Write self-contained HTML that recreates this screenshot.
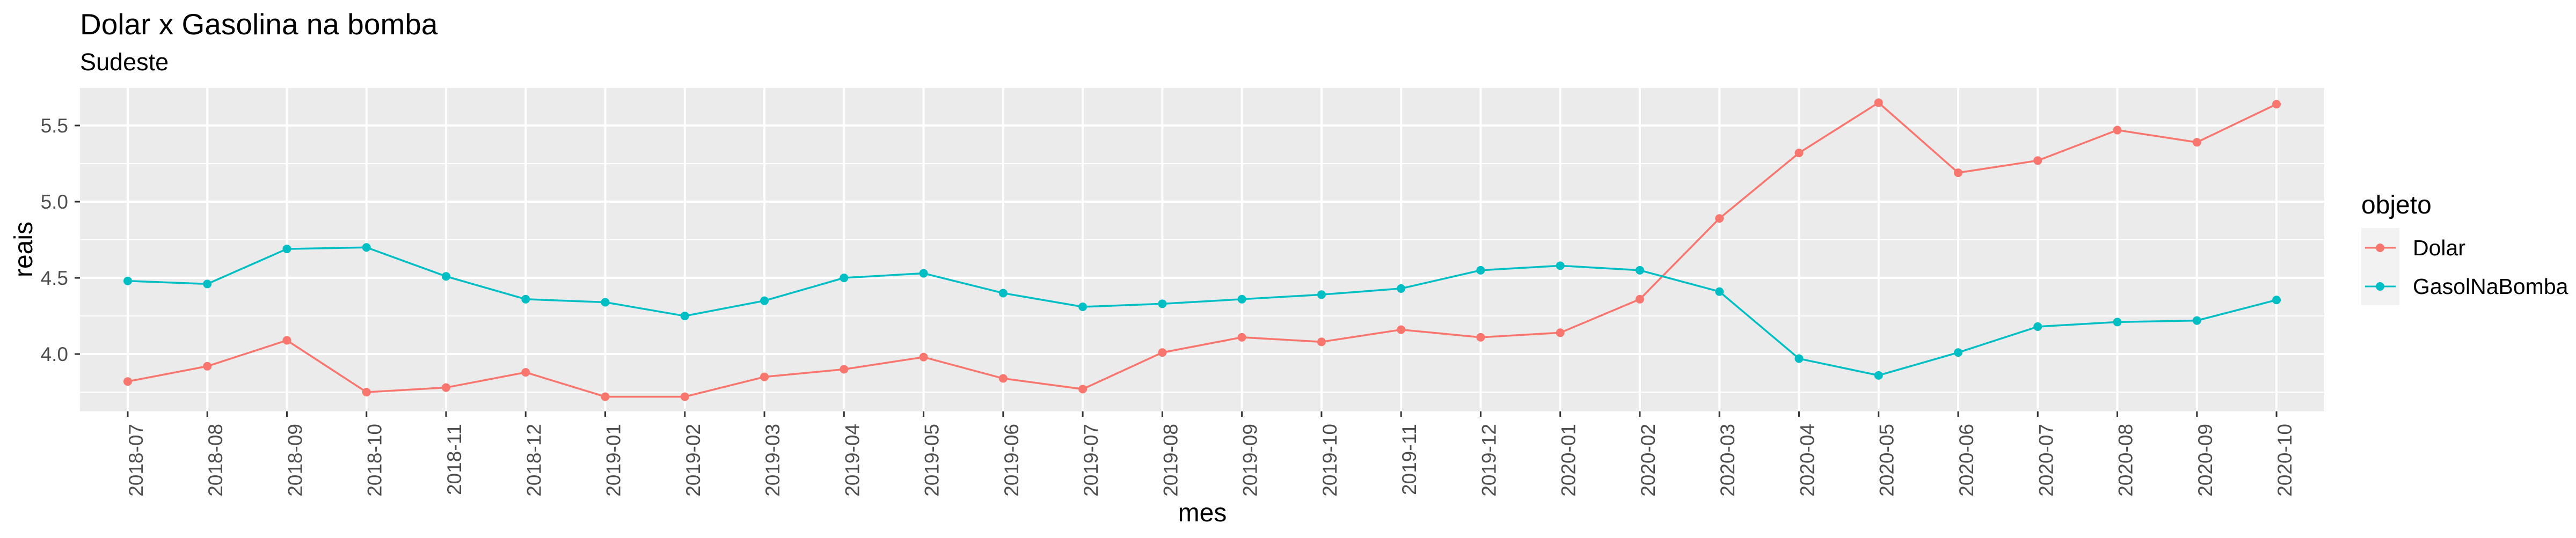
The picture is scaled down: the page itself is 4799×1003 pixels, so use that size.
<!DOCTYPE html>
<html><head><meta charset="utf-8"><style>
body{margin:0;background:#fff}
svg{display:block;font-family:"Liberation Sans",Arial,sans-serif}
</style></head><body>
<svg id="chart" width="4799" height="1003" viewBox="0 0 4799 1003" xmlns="http://www.w3.org/2000/svg">
<text x="149" y="64" font-size="55" fill="#000">Dolar x Gasolina na bomba</text>
<text x="149" y="131" font-size="45" fill="#000">Sudeste</text>
<rect x="149" y="164" width="4181" height="603" fill="#ebebeb"/>
<g id="grid"></g>
<g id="axes"></g>
<g id="series"></g>
<text transform="translate(60,465) rotate(-90)" text-anchor="middle" font-size="48" fill="#000">reais</text>
<text x="2240" y="972" text-anchor="middle" font-size="48" fill="#000">mes</text>
<g>
<text x="4399" y="398" font-size="48" fill="#000">objeto</text>
<rect x="4399" y="425" width="71" height="144" fill="#f2f2f2"/>
<g>
<line x1="4406" y1="462" x2="4463" y2="462" stroke="#F8766D" stroke-width="3"/>
<circle cx="4434" cy="462" r="8" fill="#F8766D"/>
<text x="4495" y="476" font-size="41" fill="#000">Dolar</text></g>
<g>
<line x1="4406" y1="534" x2="4463" y2="534" stroke="#00BFC4" stroke-width="3"/>
<circle cx="4434" cy="534" r="8" fill="#00BFC4"/>
<text x="4495" y="548" font-size="41" fill="#000">GasolNaBomba</text></g>
</g>
</svg>
<script>
const categories=["2018-07","2018-08","2018-09","2018-10","2018-11","2018-12","2019-01","2019-02","2019-03","2019-04","2019-05","2019-06","2019-07","2019-08","2019-09","2019-10","2019-11","2019-12","2020-01","2020-02","2020-03","2020-04","2020-05","2020-06","2020-07","2020-08","2020-09","2020-10"];
const dolarValues=[3.82,3.92,4.09,3.75,3.78,3.88,3.72,3.72,3.85,3.90,3.98,3.84,3.77,4.01,4.11,4.08,4.16,4.11,4.14,4.36,4.89,5.32,5.65,5.19,5.27,5.47,5.39,5.64];
const gasolValues=[4.48,4.46,4.69,4.70,4.51,4.36,4.34,4.25,4.35,4.50,4.53,4.40,4.31,4.33,4.36,4.39,4.43,4.55,4.58,4.55,4.41,3.97,3.86,4.01,4.18,4.21,4.22,4.355];
const yTicks=[4.0,4.5,5.0,5.5];
const yTickLabels=["4.0","4.5","5.0","5.5"];
const yMinor=[3.75,4.25,4.75,5.25];

const NS="http://www.w3.org/2000/svg";
const PL=149,PR=4330,PT=164,PB=767;
const yMin=3.6235,yMax=5.7465;
function xPos(i){const n=categories.length;const step=(PR-PL)/(n-1+1.2);return PL+step*0.6+i*step;}
function yPos(v){return PB-(v-yMin)/(yMax-yMin)*(PB-PT);}
function mk(tag,attrs,parent){const e=document.createElementNS(NS,tag);for(const k in attrs)e.setAttribute(k,attrs[k]);parent.appendChild(e);return e;}
const grid=document.getElementById('grid'),axes=document.getElementById('axes'),series=document.getElementById('series');
yMinor.forEach(v=>{const l=mk('line',{x1:PL,x2:PR,y1:yPos(v),y2:yPos(v),stroke:'#fff','stroke-width':2},grid);

});
yTicks.forEach((v,i)=>{const y=yPos(v);
const l=mk('line',{x1:PL,x2:PR,y1:y,y2:y,stroke:'#fff','stroke-width':4},grid);


const t=mk('line',{x1:139,x2:149,y1:y,y2:y,stroke:'#333','stroke-width':3},axes);


const tx=mk('text',{x:127,y:y+13,'text-anchor':'end','font-size':37,fill:'#4d4d4d'},axes);tx.textContent=yTickLabels[i];

});
categories.forEach((c,i)=>{const x=xPos(i);
const l=mk('line',{x1:x,x2:x,y1:PT,y2:PB,stroke:'#fff','stroke-width':4},grid);


const t=mk('line',{x1:x,x2:x,y1:PB,y2:PB+10,stroke:'#333','stroke-width':3},axes);


const tx=mk('text',{transform:`translate(${x+28},790) rotate(-90)`,'text-anchor':'end','font-size':37,fill:'#4d4d4d'},axes);tx.textContent=c;

});
function drawSeries(vals,color,name){
const p=mk('polyline',{points:vals.map((v,i)=>xPos(i)+','+yPos(v)).join(' '),fill:'none',stroke:color,'stroke-width':3.5},series);


vals.forEach((v,i)=>{const c=mk('circle',{cx:xPos(i),cy:yPos(v),r:8,fill:color},series);

});}
drawSeries(dolarValues,'#F8766D','dolar');
drawSeries(gasolValues,'#00BFC4','gasolnabomba');
</script>
</body></html>
